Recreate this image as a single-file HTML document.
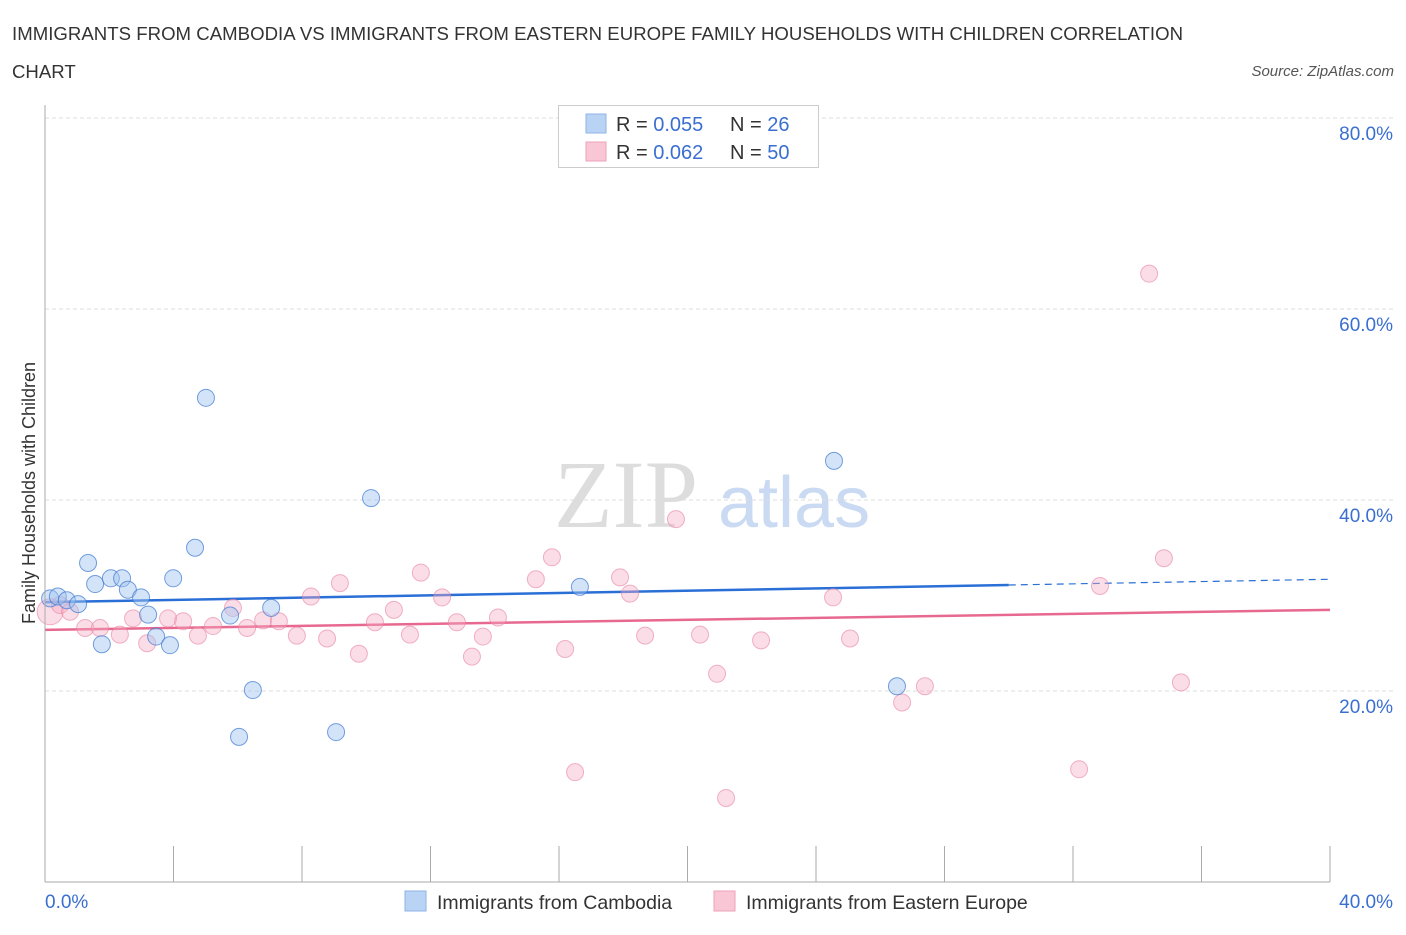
<!DOCTYPE html>
<html><head><meta charset="utf-8"><style>
body{margin:0;background:#fff;font-family:"Liberation Sans",sans-serif;}
svg text{font-family:"Liberation Sans",sans-serif;}
</style></head><body>
<svg id="chart" width="1406" height="930">
<text x="12" y="40" font-size="18.6" fill="#333" textLength="1171">IMMIGRANTS FROM CAMBODIA VS IMMIGRANTS FROM EASTERN EUROPE FAMILY HOUSEHOLDS WITH CHILDREN CORRELATION</text>
<text x="12" y="78" font-size="18.6" fill="#333">CHART</text>
<text x="1394" y="76" font-size="15" fill="#555" font-style="italic" text-anchor="end">Source: ZipAtlas.com</text>
<text x="35" y="493" font-size="18" fill="#333" text-anchor="middle" transform="rotate(-90 35 493)">Family Households with Children</text>
<text x="554" y="527" font-size="96" fill="#ddd" style="font-family:'Liberation Serif',serif">ZIP</text>
<text x="718" y="527" font-size="72" fill="#c9daf2">atlas</text>
<g id="grid"></g>
<g id="trend"></g>
<g id="pts"></g>
<g id="axes"></g>
<g>
<rect x="558.5" y="105.5" width="260" height="62" fill="#fff" stroke="#ccc"/>
<rect x="586" y="114" width="20" height="19" fill="#b9d3f4" stroke="#8fb3e6"/>
<rect x="586" y="142" width="20" height="19" fill="#f9c6d6" stroke="#eea3ba"/>
<text x="616" y="131" font-size="20" fill="#333">R = <tspan fill="#3a6fd0">0.055</tspan></text>
<text x="730" y="131" font-size="20" fill="#333">N = <tspan fill="#3a6fd0"> 26</tspan></text>
<text x="616" y="159" font-size="20" fill="#333">R = <tspan fill="#3a6fd0">0.062</tspan></text>
<text x="730" y="159" font-size="20" fill="#333">N = <tspan fill="#3a6fd0">50</tspan></text>
</g>
<g>
<rect x="405" y="891" width="21" height="20" fill="#b9d3f4" stroke="#8fb3e6"/>
<text x="437" y="909" font-size="19.5" fill="#333">Immigrants from Cambodia</text>
<rect x="714" y="891" width="21" height="20" fill="#f9c6d6" stroke="#eea3ba"/>
<text x="746" y="909" font-size="19.5" fill="#333">Immigrants from Eastern Europe</text>
</g>
</svg>
<script>
const yTicks=[20,40,60,80];
const yTickLabels=["20.0%","40.0%","60.0%","80.0%"];
const xEnds=[0,40];
const xEndLabels=["0.0%","40.0%"];
const cambodiaX=[0.16,0.40,0.68,1.03,1.34,1.56,1.77,2.05,2.40,2.58,2.99,3.21,3.46,3.89,3.99,4.67,5.01,5.76,6.04,6.47,7.04,9.06,10.15,16.65,24.56,26.52];
const cambodiaY=[29.7,29.9,29.5,29.1,33.4,31.2,24.9,31.8,31.8,30.6,29.8,28.0,25.7,24.8,31.8,35.0,50.7,27.9,15.2,20.1,28.7,15.7,40.2,30.9,44.1,20.5];
const europeX=[0.16,0.47,0.78,1.25,1.71,2.33,2.74,3.18,3.83,4.30,4.76,5.23,5.85,6.29,6.79,7.28,7.84,8.28,8.78,9.18,9.77,10.27,10.86,11.36,11.70,12.36,12.82,13.29,13.63,14.10,15.28,15.78,16.19,16.50,17.90,18.21,18.68,19.64,20.39,20.92,21.20,22.29,24.53,25.06,26.68,27.39,32.19,32.84,34.37,34.83,35.36];
const europeY=[28.3,29.0,28.3,26.6,26.6,25.9,27.6,25.0,27.6,27.3,25.8,26.8,28.7,26.6,27.4,27.3,25.8,29.9,25.5,31.3,23.9,27.2,28.5,25.9,32.4,29.8,27.2,23.6,25.7,27.7,31.7,34.0,24.4,11.5,31.9,30.2,25.8,38.0,25.9,21.8,8.8,25.3,29.8,25.5,18.8,20.5,11.8,31.0,63.7,33.9,20.9];
const cambodiaTrend=[29.3,31.1,31.7]; // at x=0, 30, 40
const europeTrend=[26.4,28.5]; // at x=0, 40
const NS="http://www.w3.org/2000/svg";
const X=v=>45+v/40*1285, Y=v=>882-v*9.55;
function mk(tag,attrs,parent){const e=document.createElementNS(NS,tag);for(const k in attrs)e.setAttribute(k,attrs[k]);document.getElementById(parent).appendChild(e);return e;}
yTicks.forEach((t,i)=>{
 const l=mk('line',{x1:45,x2:1394,y1:Y(t),y2:Y(t),stroke:'#ddd','stroke-dasharray':'4,3'},'grid');
 
 
 const tx=mk('text',{x:1393,y:Y(t)+22,'font-size':19,fill:'#3a6fd0','text-anchor':'end'},'grid');
 tx.textContent=yTickLabels[i];
 
 
});
let a=mk('line',{x1:45,x2:45,y1:105,y2:882,stroke:'#aaa'},'axes');


a=mk('line',{x1:45,x2:1330,y1:882,y2:882,stroke:'#aaa'},'axes');


for(let v=0;v<=40;v+=4){
 const t=mk('line',{x1:X(v),x2:X(v),y1:846,y2:882,stroke:'#aaa'},'axes');
 
 
}
xEnds.forEach((v,i)=>{
 const t=mk('text',{x:i?1393:45,y:908,'font-size':19,fill:'#3a6fd0','text-anchor':i?'end':'start'},'axes');
 t.textContent=xEndLabels[i];
 
 
});
let tl=mk('line',{x1:X(0),y1:Y(cambodiaTrend[0]),x2:X(30),y2:Y(cambodiaTrend[1]),stroke:'#2a6fd6','stroke-width':2.5},'trend');


tl=mk('line',{x1:X(30),y1:Y(cambodiaTrend[1]),x2:X(40),y2:Y(cambodiaTrend[2]),stroke:'#2a6fd6','stroke-width':1.2,'stroke-dasharray':'7,5'},'trend');


tl=mk('line',{x1:X(0),y1:Y(europeTrend[0]),x2:X(40),y2:Y(europeTrend[1]),stroke:'#e8698f','stroke-width':2.5},'trend');


europeX.forEach((x,i)=>{
 const c=mk('circle',{cx:X(x),cy:Y(europeY[i]),r:i===0?13:8.5,fill:'rgba(246,170,195,0.4)',stroke:'rgba(232,130,160,0.6)','stroke-width':1},'pts');
 
 
});
cambodiaX.forEach((x,i)=>{
 const c=mk('circle',{cx:X(x),cy:Y(cambodiaY[i]),r:8.5,fill:'rgba(160,195,240,0.45)',stroke:'rgba(60,120,210,0.7)','stroke-width':1},'pts');
 
 
});
</script>
</body></html>
